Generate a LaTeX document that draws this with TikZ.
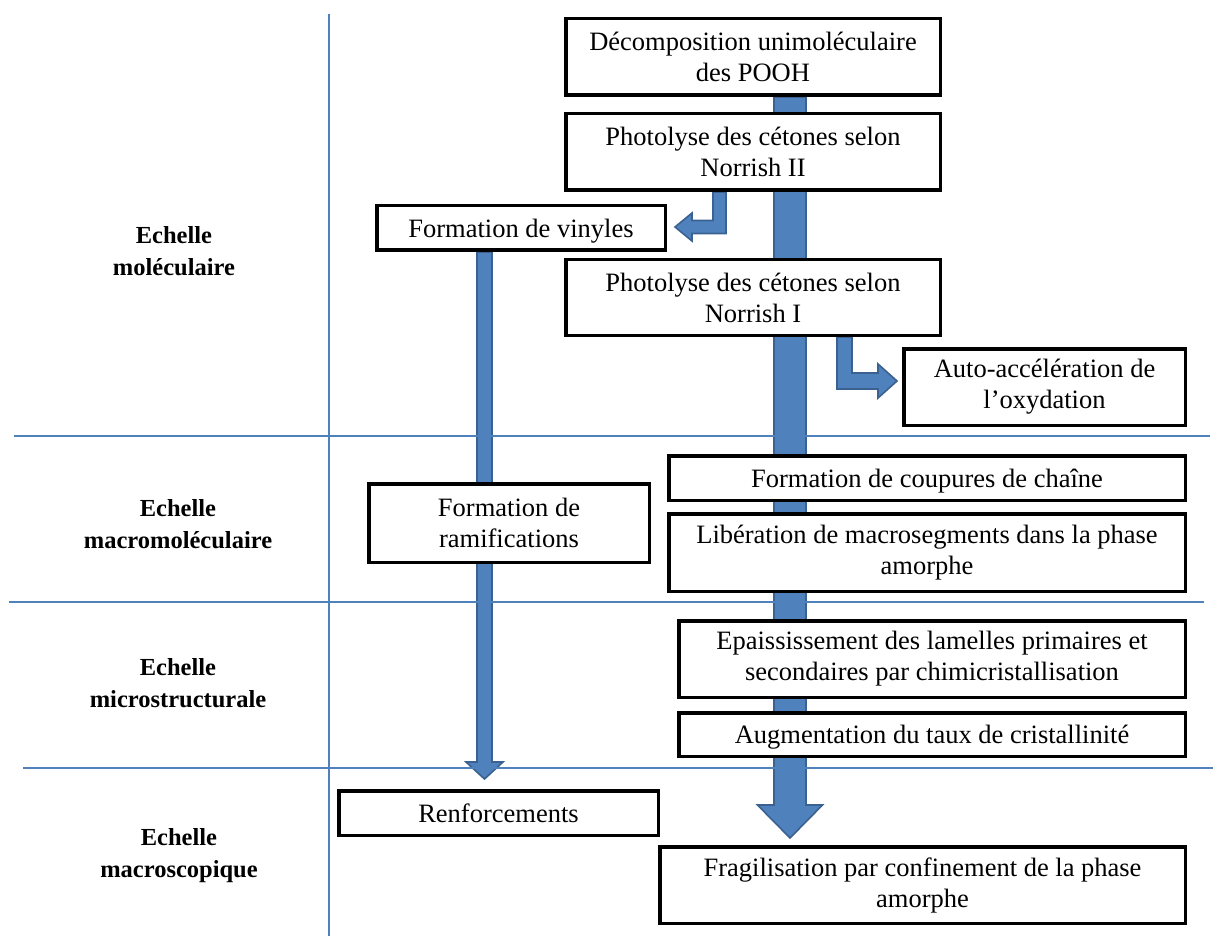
\documentclass[tikz,border=0pt]{standalone}
\usepackage{fontspec}
\setmainfont{Liberation Serif}
\usetikzlibrary{calc,backgrounds}
\definecolor{lineblue}{HTML}{4F81BD}
\definecolor{arrowblue}{HTML}{4F81BD}
\definecolor{arrowedge}{HTML}{3A6190}
\tikzset{
  box/.style={draw=black, line width=3.5pt, fill=white, align=center, inner sep=0pt,
    font=\fontsize{26.5}{31}\selectfont},
  oneline/.style={text height=24pt, text depth=6pt},
  scalelabel/.style={align=center, inner sep=0pt, font=\fontsize{24.5}{32}\selectfont\bfseries},
  sepline/.style={draw=lineblue, line width=2.5pt},
  blockarrow/.style={fill=arrowblue, draw=arrowedge, line width=1.6pt, line join=miter},
}
\begin{document}
\begin{tikzpicture}[x=1pt, y=-1pt]
\useasboundingbox (0,0) rectangle (1213,936);

% scale labels
\node[scalelabel] (lmol) at (174,251) {Echelle\\moléculaire};
\node[scalelabel] (lmac) at (178,524) {Echelle\\macromoléculaire};
\node[scalelabel] (lmic) at (178,683.5) {Echelle\\microstructurale};
\node[scalelabel] (lmsc) at (179,856) {Echelle\\macroscopique};

% separators
\draw[sepline] (329,14) -- (329,936);
\draw[sepline] (14,436) -- (1210,436);
\draw[sepline] (9,602) -- (1204,602);
\draw[sepline] (23,768) -- (1213,768);

% boxes
\node[box, minimum width=374.5, minimum height=76.5] (b1) at (753,57) {Décomposition unimoléculaire\\des POOH};
\node[box, minimum width=374.5, minimum height=76.5] (b2) at (753,152) {Photolyse des cétones selon\\Norrish II};
\node[box, oneline, minimum width=288.5, minimum height=44.5] (b3) at (521,228) {Formation de vinyles};
\node[box, minimum width=374.5, minimum height=75.5] (b4) at (753,297.5) {Photolyse des cétones selon\\Norrish I};
\node[box, minimum width=281.5, minimum height=76.5] (b5) at (1044.5,387) {Auto-accélération de\\l’oxydation};
\node[box, oneline, minimum width=516.5, minimum height=44.5] (b6) at (927,478) {Formation de coupures de chaîne};
\node[box, minimum width=516.5, minimum height=77.5] (b7) at (927,552.5) {Libération de macrosegments dans la phase\\amorphe};
\node[box, minimum width=280.5, minimum height=78.5] (b8) at (509,523) {Formation de\\ramifications};
\node[box, minimum width=506.5, minimum height=76.5] (b9) at (932,659) {Epaississement des lamelles primaires et\\secondaires par chimicristallisation};
\node[box, oneline, minimum width=506.5, minimum height=43.5] (b10) at (932,734.5) {Augmentation du taux de cristallinité};
\node[box, oneline, minimum width=319.5, minimum height=44.5] (b11) at (498.5,813) {Renforcements};
\node[box, minimum width=525.5, minimum height=76.5] (b12) at (922.5,885) {Fragilisation par confinement de la phase\\amorphe};

% arrow axes
\coordinate (cs) at (790,0 |- b1.south);
\coordinate (ct) at (790,838);
\coordinate (ls) at (484.5,0 |- b3.south);
\coordinate (lt) at (484.5,779);
\coordinate (v1) at (719.5,0 |- b2.south);
\coordinate (v2) at (844.5,0 |- b4.south);

\begin{scope}[on background layer]
  % main vertical arrow
  \draw[blockarrow] ($(cs)+(-16,0)$) -- ($(cs)+(16,0)$) -- ($(ct)+(16,-33)$) -- ($(ct)+(32.5,-33)$)
    -- (ct) -- ($(ct)+(-32.5,-33)$) -- ($(ct)+(-16,-33)$) -- cycle;
  % left vertical arrow
  \draw[blockarrow] ($(ls)+(-7.5,0)$) -- ($(ls)+(7.5,0)$) -- ($(lt)+(7.5,-17)$) -- ($(lt)+(18.5,-17)$)
    -- (lt) -- ($(lt)+(-18.5,-17)$) -- ($(lt)+(-7.5,-17)$) -- cycle;
  % bent arrow Norrish II -> vinyles
  \draw[blockarrow] ($(v1)+(-6.5,0)$) -- ($(v1)+(6.5,0)$) -- ($(v1)+(6.5,41.5)$) -- ($(v1)+(-27.5,41.5)$)
    -- ($(v1)+(-27.5,49)$) -- ($(v1)+(-44.5,35)$) -- ($(v1)+(-27.5,21)$) -- ($(v1)+(-27.5,28.5)$)
    -- ($(v1)+(-6.5,28.5)$) -- cycle;
  % bent arrow Norrish I -> auto-acceleration
  \draw[blockarrow] ($(v2)+(-7.5,0)$) -- ($(v2)+(7.5,0)$) -- ($(v2)+(7.5,36)$) -- ($(v2)+(33.5,36)$)
    -- ($(v2)+(33.5,27)$) -- ($(v2)+(52.5,44)$) -- ($(v2)+(33.5,61)$) -- ($(v2)+(33.5,52)$)
    -- ($(v2)+(-7.5,52)$) -- cycle;
\end{scope}
\end{tikzpicture}
\end{document}
